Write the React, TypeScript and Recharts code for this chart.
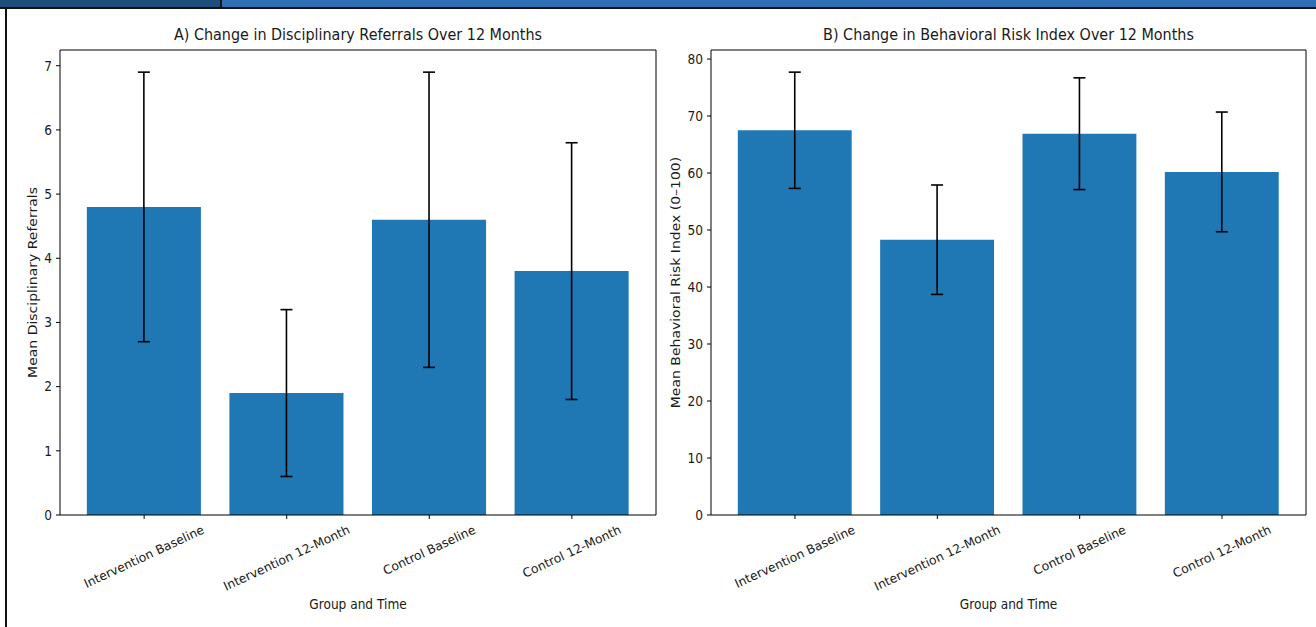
import React from 'react';
import { BarChart, Bar, XAxis, YAxis, ErrorBar, Label, CartesianGrid } from 'recharts';

const categories = ['Intervention Baseline', 'Intervention 12-Month', 'Control Baseline', 'Control 12-Month'];
const referralMeans = [4.8, 1.9, 4.6, 3.8];
const referralErrors = [2.1, 1.3, 2.3, 2.0];
const riskMeans = [67.5, 48.3, 66.9, 60.2];
const riskErrors = [10.2, 9.6, 9.8, 10.5];
const referralTicks = [0, 1, 2, 3, 4, 5, 6, 7];
const riskTicks = [0, 10, 20, 30, 40, 50, 60, 70, 80];

const FONT = '"DejaVu Sans", Verdana, sans-serif';
const BAR_COLOR = '#1f77b4';
const TEXT_COLOR = '#1a1a1a';
const FS = 14;
const TITLE_FS = 16.5;
const CAT_FS = 12.3;
const SX = 0.87;

const buildRows = (means: number[], errs: number[]) =>
  categories.map((name, i) => ({ name, mean: means[i], err: errs[i] }));

const referralRows = buildRows(referralMeans, referralErrors);
const riskRows = buildRows(riskMeans, riskErrors);

let ctx: CanvasRenderingContext2D | null = null;
const measure = (text: string, fs: number) => {
  if (!ctx) {
    const c = document.createElement('canvas');
    ctx = c.getContext('2d');
  }
  if (!ctx) return text.length * fs * 0.55;
  ctx.font = `${fs}px "DejaVu Sans"`;
  return ctx.measureText(text).width;
};

type STProps = {
  x: number;
  y: number;
  anchor?: 'start' | 'middle' | 'end';
  rotate?: number;
  fs?: number;
  sx?: number;
  children: React.ReactNode;
};

const ScaledText = ({ x, y, anchor = 'middle', rotate = 0, fs = FS, sx = SX, children }: STProps) => (
  <text
    x={0}
    y={0}
    transform={`translate(${x} ${y}) scale(${sx} 1) rotate(${rotate})`}
    textAnchor={anchor}
    dominantBaseline="central"
    fontSize={fs}
    fontFamily={FONT}
    fill={TEXT_COLOR}
  >
    {children}
  </text>
);

const CatTick = (props: any) => {
  const { x, y, payload } = props;
  const label = String(payload.value);
  const w = measure(label, CAT_FS);
  const h = CAT_FS * 1.1;
  const a = (25 * Math.PI) / 180;
  const H = w * Math.sin(a) + h * Math.cos(a);
  return (
    <ScaledText x={x} y={y + 1 + H / 2} rotate={-25} fs={CAT_FS} sx={1}>
      {label}
    </ScaledText>
  );
};

const NumTick = (props: any) => {
  const { x, y, payload } = props;
  return (
    <ScaledText x={x} y={y} anchor="end">
      {String(payload.value)}
    </ScaledText>
  );
};

type PanelProps = {
  rows: { name: string; mean: number; err: number }[];
  ticks: number[];
  title: string;
  yLabel: string;
  width: number;
  yAxisWidth: number;
  marginRight: number;
  yLabelX: number;
};

const Panel = ({ rows, ticks, title, yLabel, width, yAxisWidth, marginRight, yLabelX }: PanelProps) => {
  const height = 627;
  const top = 50;
  const xAxisHeight = 112;
  const plotW = width - yAxisWidth - marginRight;
  const unit = plotW / 4.18;
  const pad = (plotW - 4 * unit) / 2;
  const barW = unit * 0.8;
  const yMax = Math.max(...rows.map((r) => r.mean + r.err)) * 1.05;
  return (
    <BarChart
      width={width}
      height={height}
      data={rows}
      margin={{ top, right: marginRight, bottom: 0, left: 0 }}
    >
      <CartesianGrid
        stroke="#000"
        strokeWidth={1}
        fill="none"
        horizontalCoordinatesGenerator={(p: any) => [p.offset.top]}
        verticalCoordinatesGenerator={(p: any) => [p.offset.left + p.offset.width]}
      />
      <XAxis
        dataKey="name"
        type="category"
        height={xAxisHeight}
        padding={{ left: pad, right: pad }}
        interval={0}
        tick={<CatTick />}
        tickSize={4}
        tickMargin={3}
        axisLine={{ stroke: '#000', strokeWidth: 1 }}
        tickLine={{ stroke: '#000', strokeWidth: 1 }}
      >
        <Label
          content={(p: any) => {
            const vb = p.viewBox || {};
            return (
              <ScaledText x={vb.x + vb.width / 2} y={vb.y + 89}>
                Group and Time
              </ScaledText>
            );
          }}
        />
      </XAxis>
      <YAxis
        type="number"
        width={yAxisWidth}
        domain={[0, yMax]}
        ticks={ticks}
        interval={0}
        tickSize={4}
        tickMargin={4}
        tick={<NumTick />}
        axisLine={{ stroke: '#000', strokeWidth: 1 }}
        tickLine={{ stroke: '#000', strokeWidth: 1 }}
        allowDataOverflow
      >
        <Label
          content={(p: any) => {
            const vb = p.viewBox || {};
            return (
              <ScaledText x={yLabelX} y={vb.y + vb.height / 2} rotate={-90}>
                {yLabel}
              </ScaledText>
            );
          }}
        />
        <Label
          content={(p: any) => {
            const vb = p.viewBox || {};
            return (
              <ScaledText x={yAxisWidth + plotW / 2} y={vb.y - 15} fs={TITLE_FS}>
                {title}
              </ScaledText>
            );
          }}
        />
      </YAxis>
      <Bar dataKey="mean" fill={BAR_COLOR} barSize={barW} isAnimationActive={false}>
        <ErrorBar
          dataKey="err"
          direction="y"
          width={6}
          stroke="#000"
          strokeWidth={1.6}
          isAnimationActive={false}
        />
      </Bar>
    </BarChart>
  );
};

export default function App() {
  return (
    <div
      style={{
        position: 'absolute',
        left: 0,
        top: 0,
        width: 1316,
        height: 627,
        background: '#ffffff',
        overflow: 'hidden',
        fontFamily: FONT,
      }}
    >
      <div style={{ position: 'absolute', left: 0, top: 0, width: 220, height: 7, background: '#1f4e7a' }} />
      <div style={{ position: 'absolute', left: 220, top: 0, width: 2, height: 7, background: '#111' }} />
      <div style={{ position: 'absolute', left: 222, top: 0, width: 1094, height: 7, background: '#2e6fb4' }} />
      <div style={{ position: 'absolute', left: 0, top: 7, width: 1316, height: 2, background: '#111' }} />
      <div style={{ position: 'absolute', left: 5, top: 7, width: 2, height: 620, background: '#111' }} />
      <div style={{ position: 'absolute', left: 0, top: 0 }}>
        <Panel
          rows={referralRows}
          ticks={referralTicks}
          title="A) Change in Disciplinary Referrals Over 12 Months"
          yLabel="Mean Disciplinary Referrals"
          width={660}
          yAxisWidth={60}
          marginRight={4}
          yLabelX={32.5}
        />
      </div>
      <div style={{ position: 'absolute', left: 646, top: 0 }}>
        <Panel
          rows={riskRows}
          ticks={riskTicks}
          title="B) Change in Behavioral Risk Index Over 12 Months"
          yLabel="Mean Behavioral Risk Index (0–100)"
          width={670}
          yAxisWidth={65}
          marginRight={10}
          yLabelX={30}
        />
      </div>
    </div>
  );
}
